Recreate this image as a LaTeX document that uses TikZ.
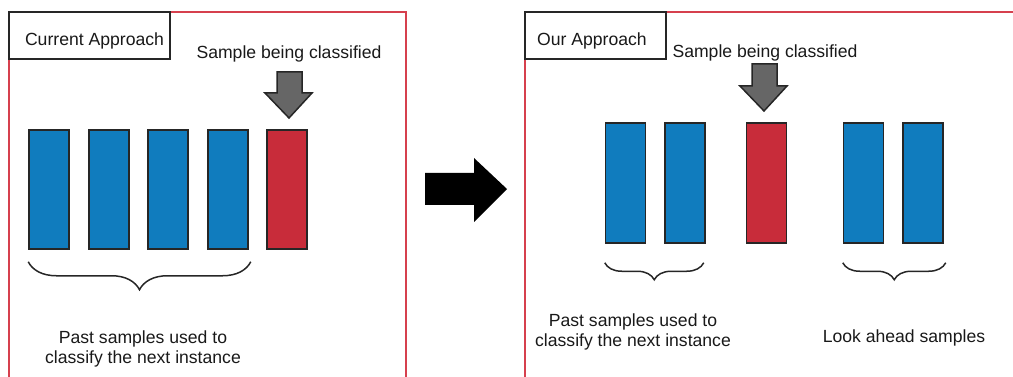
\documentclass[tikz,border=0pt]{standalone}
\usepackage{fontspec}
\setmainfont{Liberation Sans}
\usetikzlibrary{decorations.pathreplacing}
\definecolor{sampblue}{RGB}{16,124,190}
\definecolor{sampred}{RGB}{200,44,58}
\definecolor{framered}{RGB}{214,64,78}
\definecolor{pointgray}{RGB}{102,102,102}
\begin{document}
\begin{tikzpicture}[x=1pt, y=-1pt,
  every node/.style={font=\fontsize{17.6}{20}\selectfont, text=black!90},
  sample/.style={draw=black!85, line width=1.5pt, minimum width=40pt, minimum height=119pt, inner sep=0pt},
  titlebox/.style={draw=black!85, line width=1.5pt, fill=white, inner sep=0pt},
  pointer/.style={draw=black!85, line width=1.5pt, fill=pointgray, line join=miter},
  framing/.style={draw=framered, line width=1.3pt},
  mybrace/.style={decorate, decoration={brace, mirror, amplitude=#1}, line width=1.5pt, draw=black!85}]
\useasboundingbox (0,0) rectangle (1013,377);
% frames
\draw[framing] (9,377) -- (9,12) -- (406,12) -- (406,377);
\draw[framing] (525,377) -- (525,12) -- (1013,12);
\node[titlebox, minimum width=161pt, minimum height=47pt] (curbox) at (89.5,35.5) {};
\node[anchor=base] (curtxt) at (94.5,45.5) {Current Approach};
\node[titlebox, minimum width=141pt, minimum height=47pt] (ourbox) at (595.5,35.5) {};
\node[anchor=base] (ourtxt) at (592,45.5) {Our Approach};
% current approach
\node[sample, fill=sampblue] (c1) at (49,189.5) {};
\node[sample, fill=sampblue] (c2) at (109,189.5) {};
\node[sample, fill=sampblue] (c3) at (168,189.5) {};
\node[sample, fill=sampblue] (c4) at (228,189.5) {};
\node[sample, fill=sampred] (cx) at (287,189.5) {};
\node[anchor=base] (ctag) at (289,58.3) {Sample being classified};
\coordinate (ctip) at (289,118);
\draw[pointer, shift={(ctip)}] (-12,-46) -- (13,-46) -- (13,-25) -- (23,-25) -- (0,0) -- (-24,-25) -- (-12,-25) -- cycle;
\draw[mybrace=28pt] ([yshift=-12pt]c1.south west) -- ([xshift=2pt,yshift=-12pt]c4.south east) coordinate[midway] (cmid);
\node[align=center] (cpast) at (143,348.5) {Past samples used to\\classify the next instance};
% transition
\coordinate (go) at (425,189);
\fill[black, shift={(go)}] (0,-16) -- (49,-16) -- (49,-31) -- (82,0) -- (49,33) -- (49,16) -- (0,16) -- cycle;
% our approach
\node[sample, fill=sampblue, minimum height=120pt] (o1) at (625.5,183) {};
\node[sample, fill=sampblue, minimum height=120pt] (o2) at (685,183) {};
\node[sample, fill=sampred, minimum height=120pt] (ox) at (766.5,183) {};
\node[sample, fill=sampblue, minimum height=120pt] (o3) at (863.5,183) {};
\node[sample, fill=sampblue, minimum height=120pt] (o4) at (923,183) {};
\node[anchor=base] (otag) at (765,57.5) {Sample being classified};
\coordinate (otip) at (764,111);
\draw[pointer, shift={(otip)}] (-12,-47) -- (13,-47) -- (13,-25) -- (23,-25) -- (0,0) -- (-24,-25) -- (-12,-25) -- cycle;
\draw[mybrace=17pt] ([yshift=-19pt]o1.south west) -- ([xshift=-2pt,yshift=-19pt]o2.south east);
\draw[mybrace=17pt] ([yshift=-19pt]o3.south west) -- ([xshift=2pt,yshift=-19pt]o4.south east);
\node[align=center] (opast) at (633,331.5) {Past samples used to\\classify the next instance};
\node[anchor=base] (olook) at (904,342.7) {Look ahead samples};
\end{tikzpicture}
\end{document}
